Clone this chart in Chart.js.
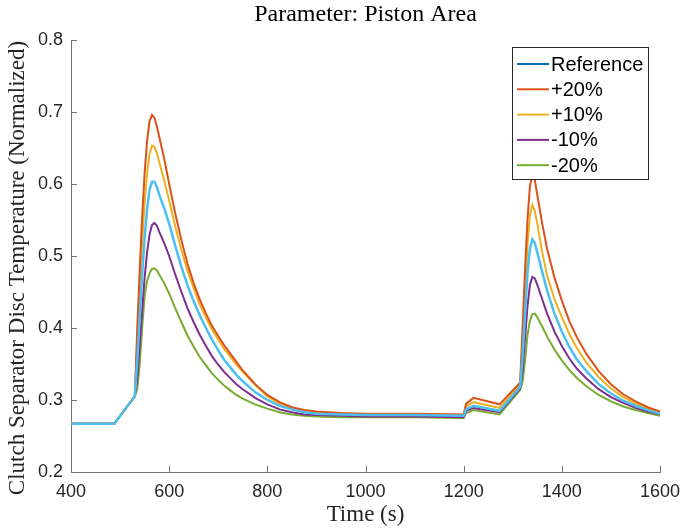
<!DOCTYPE html>
<html>
<head>
<meta charset="utf-8">
<script src="https://cdn.jsdelivr.net/npm/chart.js@4.4.1/dist/chart.umd.min.js"></script>
<style>
  html, body { margin: 0; padding: 0; background: #ffffff; }
  #wrap { width: 681px; height: 530px; }
</style>
</head>
<body>
<div id="wrap"><canvas id="tempChart" width="681" height="530"></canvas></div>
<script>
// Time axis (s)
const times = [400, 488, 530, 535, 540, 545, 550, 555, 560, 565, 570, 575, 580,
  590, 600, 612, 625, 637, 650, 662, 675, 687, 700, 712, 725, 737, 750,
  775, 800, 825, 850, 875, 900, 950, 1000, 1100, 1200,
  1205, 1220, 1273, 1315, 1320, 1325, 1330, 1335, 1340, 1345, 1350,
  1360, 1370, 1385, 1400, 1415, 1430, 1450, 1475, 1500, 1525, 1550, 1575, 1600];

// Normalized separator disc temperature per piston area variant
const refTemp = [0.267, 0.267, 0.305, 0.355, 0.415, 0.475, 0.525, 0.565, 0.592, 0.603, 0.603, 0.596, 0.585,
  0.566, 0.545, 0.515, 0.485, 0.46, 0.437, 0.418, 0.40, 0.384, 0.369, 0.356, 0.345, 0.335, 0.326,
  0.311, 0.300, 0.292, 0.287, 0.283, 0.281, 0.280, 0.279, 0.279, 0.278,
  0.287, 0.292, 0.285, 0.318, 0.36, 0.42, 0.475, 0.511, 0.523, 0.518, 0.505,
  0.478, 0.452, 0.42, 0.395, 0.374, 0.357, 0.34, 0.322, 0.309, 0.299, 0.292, 0.286, 0.281];
const plus20 = [0.267, 0.267, 0.305, 0.40, 0.48, 0.555, 0.615, 0.66, 0.687, 0.696, 0.692, 0.68, 0.665,
  0.635, 0.600, 0.560, 0.522, 0.490, 0.462, 0.440, 0.42, 0.403, 0.389, 0.376, 0.364, 0.353, 0.341,
  0.322, 0.307, 0.297, 0.290, 0.286, 0.284, 0.282, 0.281, 0.281, 0.280,
  0.295, 0.303, 0.294, 0.324, 0.40, 0.48, 0.55, 0.597, 0.613, 0.605, 0.585,
  0.545, 0.51, 0.47, 0.438, 0.41, 0.388, 0.364, 0.34, 0.322, 0.308, 0.298, 0.29, 0.284];
const plus10 = [0.267, 0.267, 0.305, 0.38, 0.45, 0.52, 0.575, 0.615, 0.642, 0.653, 0.652, 0.643, 0.63,
  0.605, 0.577, 0.542, 0.508, 0.480, 0.455, 0.433, 0.414, 0.398, 0.384, 0.371, 0.36, 0.349, 0.339,
  0.321, 0.305, 0.295, 0.289, 0.285, 0.282, 0.281, 0.280, 0.280, 0.279,
  0.291, 0.297, 0.289, 0.321, 0.38, 0.45, 0.515, 0.557, 0.571, 0.562, 0.545,
  0.505, 0.473, 0.44, 0.415, 0.392, 0.373, 0.352, 0.332, 0.316, 0.304, 0.295, 0.288, 0.282];
const minus10 = [0.267, 0.267, 0.305, 0.33, 0.375, 0.425, 0.47, 0.505, 0.53, 0.543, 0.546, 0.542, 0.533,
  0.518, 0.50, 0.475, 0.45, 0.428, 0.408, 0.391, 0.375, 0.361, 0.349, 0.339, 0.33, 0.322, 0.315,
  0.303, 0.294, 0.287, 0.283, 0.280, 0.279, 0.278, 0.277, 0.277, 0.276,
  0.285, 0.289, 0.283, 0.316, 0.34, 0.385, 0.43, 0.46, 0.471, 0.469, 0.46,
  0.44, 0.42, 0.395, 0.375, 0.358, 0.344, 0.33, 0.315, 0.304, 0.296, 0.289, 0.284, 0.280];
const minus20 = [0.267, 0.267, 0.305, 0.315, 0.35, 0.40, 0.445, 0.465, 0.476, 0.482, 0.483, 0.48, 0.474,
  0.462, 0.448, 0.428, 0.408, 0.39, 0.374, 0.36, 0.348, 0.337, 0.328, 0.32, 0.313, 0.307, 0.302,
  0.294, 0.288, 0.283, 0.280, 0.278, 0.277, 0.276, 0.276, 0.276, 0.275,
  0.282, 0.286, 0.280, 0.314, 0.325, 0.355, 0.39, 0.41, 0.419, 0.42, 0.415,
  0.402, 0.388, 0.37, 0.355, 0.342, 0.331, 0.319, 0.307, 0.298, 0.291, 0.286, 0.282, 0.278];

const seriesLabels = ['Reference', '+20%', '+10%', '-10%', '-20%'];
const seriesValues = [refTemp, plus20, plus10, minus10, minus20];
const lineColors = ['#4DBEEE', '#D95319', '#EDB120', '#7E2F8E', '#77AC30'];
const legendColors = ['#0072BD', '#D95319', '#EDB120', '#7E2F8E', '#77AC30'];

const xTicks = [400, 600, 800, 1000, 1200, 1400, 1600];
const yTicks = [0.2, 0.3, 0.4, 0.5, 0.6, 0.7, 0.8];

const sansFont = "'Liberation Sans', Arial, sans-serif";
const serifFont = "'Liberation Serif', 'Times New Roman', serif";
const axisGray = '#737373';

// Inward ticks, titles and in-plot legend (matlab style)
const decorPlugin = {
    id: 'decor',
    afterDatasetsDraw(chart) {
        const ctx = chart.ctx;
        const area = chart.chartArea;
        const xs = chart.scales.x;
        const ys = chart.scales.y;

        ctx.save();
        ctx.strokeStyle = axisGray;
        ctx.lineWidth = 1;
        ctx.beginPath();
        xTicks.forEach(t => {
            const px = Math.round(xs.getPixelForValue(t)) + 0.5;
            ctx.moveTo(px, area.bottom);
            ctx.lineTo(px, area.bottom - 6);
        });
        yTicks.forEach(t => {
            const py = Math.round(ys.getPixelForValue(t)) + 0.5;
            ctx.moveTo(area.left, py);
            ctx.lineTo(area.left + 6, py);
        });
        ctx.stroke();

        // title
        ctx.fillStyle = '#000000';
        ctx.font = '24px ' + serifFont;
        ctx.textAlign = 'center';
        ctx.textBaseline = 'middle';
        ctx.fillText('Parameter: Piston Area', (area.left + area.right) / 2, 15);

        // y axis label
        ctx.save();
        ctx.translate(18, 268);
        ctx.rotate(-Math.PI / 2);
        ctx.fillStyle = '#262626';
        ctx.font = '23px ' + serifFont;
        ctx.fillText('Clutch Separator Disc Temperature (Normalized)', 0, 0);
        ctx.restore();

        // legend box
        const box = { x: 512, y: 47, w: 136, h: 132 };
        ctx.fillStyle = '#ffffff';
        ctx.fillRect(box.x, box.y, box.w, box.h);
        ctx.strokeStyle = '#262626';
        ctx.strokeRect(box.x + 0.5, box.y + 0.5, box.w, box.h);

        ctx.font = '20px ' + sansFont;
        ctx.textAlign = 'left';
        seriesLabels.forEach((label, i) => {
            const rowY = 64 + i * 25.3;
            ctx.strokeStyle = legendColors[i];
            ctx.lineWidth = 2;
            ctx.beginPath();
            ctx.moveTo(517, rowY);
            ctx.lineTo(549, rowY);
            ctx.stroke();
            ctx.fillStyle = '#000000';
            ctx.fillText(label, 551, rowY + 1);
        });
        ctx.restore();
    }
};

const ctx = document.getElementById('tempChart').getContext('2d');

new Chart(ctx, {
    type: 'line',
    data: {
        datasets: seriesLabels.map((label, i) => ({
            label: label,
            data: times.map((t, j) => ({ x: t, y: seriesValues[i][j] })),
            borderColor: lineColors[i],
            borderWidth: i === 0 ? 2.5 : 2,
            pointRadius: 0,
            fill: false,
            tension: 0
        }))
    },
    options: {
        responsive: false,
        animation: false,
        devicePixelRatio: 1,
        layout: {
            padding: { top: 40, right: 21, bottom: 0, left: 0 }
        },
        plugins: {
            legend: { display: false },
            tooltip: { enabled: false }
        },
        scales: {
            x: {
                type: 'linear',
                min: 400,
                max: 1600,
                afterBuildTicks: scale => {
                    scale.ticks = xTicks.map(v => ({ value: v }));
                },
                afterFit: scale => {
                    scale.height = 58;
                    scale.paddingLeft = 0;
                    scale.paddingRight = 0;
                },
                grid: { display: false, drawTicks: false },
                border: { display: true, color: axisGray, width: 1 },
                ticks: {
                    color: '#262626',
                    padding: 9,
                    maxRotation: 0,
                    font: { family: sansFont, size: 18 },
                    callback: v => String(v)
                },
                title: {
                    display: true,
                    text: 'Time (s)',
                    color: '#262626',
                    padding: { top: 0, bottom: 1 },
                    font: { family: serifFont, size: 23 }
                }
            },
            y: {
                type: 'linear',
                min: 0.2,
                max: 0.8,
                afterBuildTicks: scale => {
                    scale.ticks = yTicks.map(v => ({ value: v }));
                },
                afterFit: scale => {
                    scale.width = 71;
                },
                grid: { display: false, drawTicks: false },
                border: { display: true, color: axisGray, width: 1 },
                ticks: {
                    color: '#262626',
                    padding: 8,
                    font: { family: sansFont, size: 18 },
                    callback: v => v.toFixed(1)
                }
            }
        }
    },
    plugins: [decorPlugin]
});
</script>
</body>
</html>
